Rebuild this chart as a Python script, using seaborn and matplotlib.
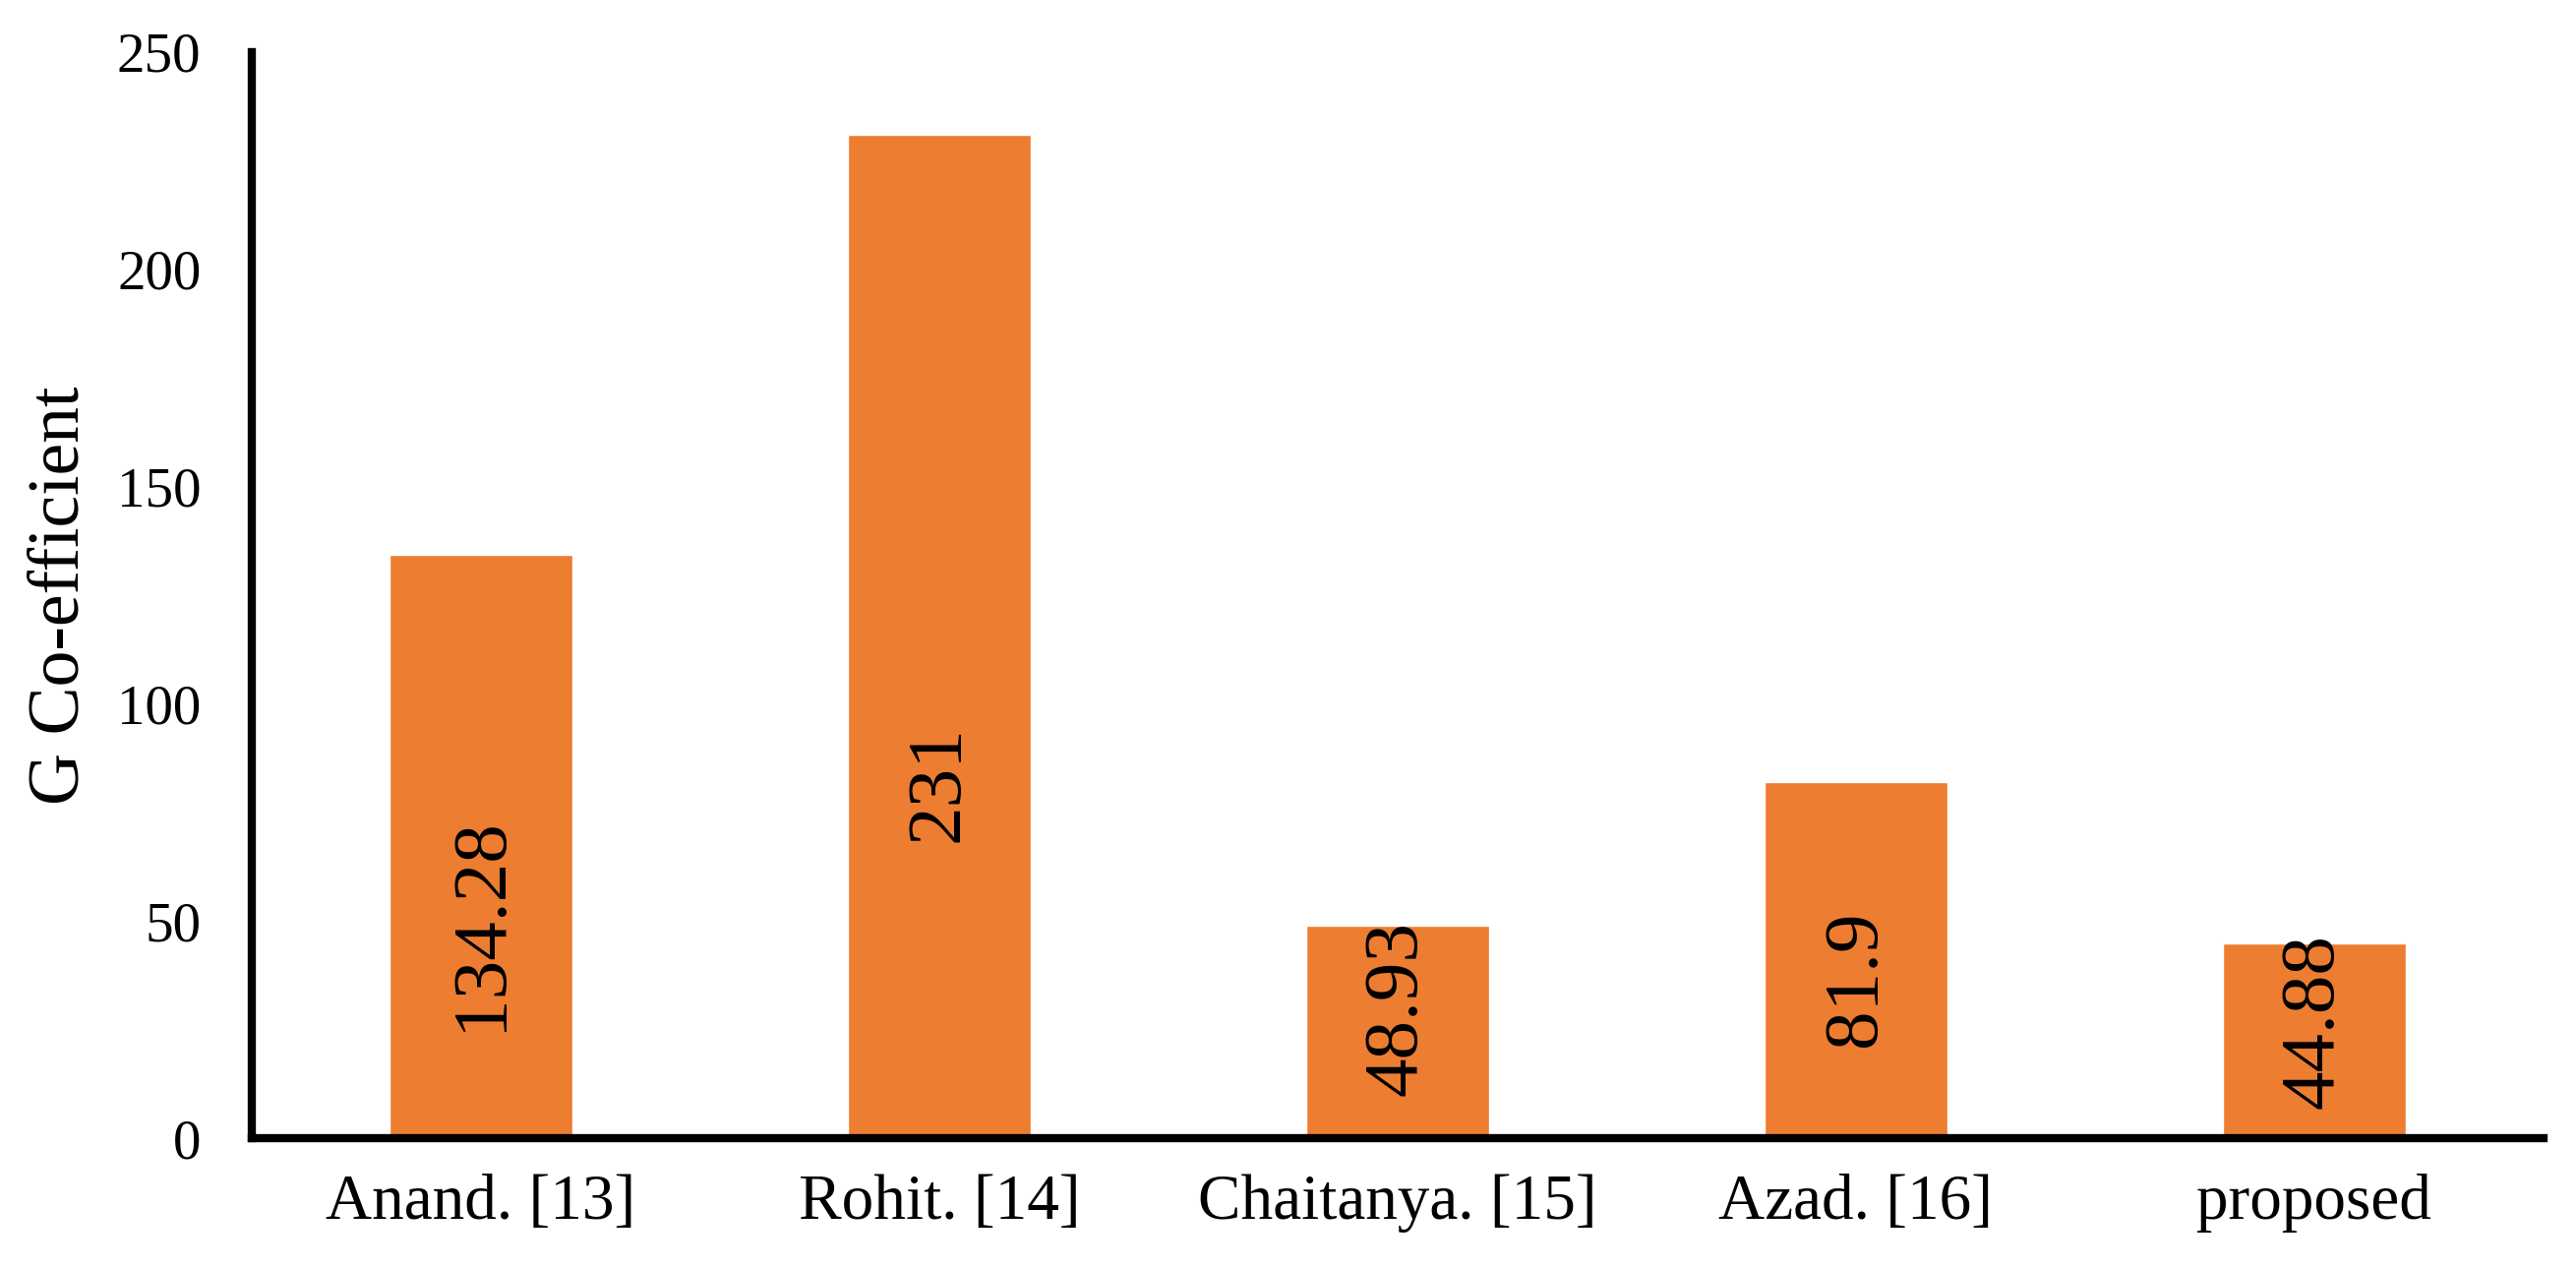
#%%
import numpy as np
import pandas as pd
import matplotlib
matplotlib.use("Agg")
import matplotlib.pyplot as plt
import seaborn as sns

# %%
methods = ["Anand. [13]", "Rohit. [14]", "Chaitanya. [15]", "Azad. [16]", "proposed"]
g_coeff = [134.28, 231, 48.93, 81.9, 44.88]
value_text = ["134.28", "231", "48.93", "81.9", "44.88"]
y_ticks = [0, 50, 100, 150, 200, 250]

# where the rotated value labels sit (centre, in data units)
label_pos = [49.4, 81.6, 29.9, 36.7, 27.0]

df = pd.DataFrame({"method": methods, "G Co-efficient": g_coeff})

# %%
sns.set_style("white")
plt.rcParams["font.family"] = ["Liberation Serif", "DejaVu Serif"]
plt.rcParams["text.color"] = "black"
plt.rcParams["axes.labelcolor"] = "black"
plt.rcParams["xtick.color"] = "black"
plt.rcParams["ytick.color"] = "black"

fig = plt.figure(figsize=(26.19, 12.89), dpi=100)
ax = fig.add_axes([0.0977, 0.1024, 0.8896, 0.8565])

sns.barplot(x="method", y="G Co-efficient", data=df, color="#ED7D31",
            saturation=1, width=0.4, ax=ax)

for i, txt in enumerate(value_text):
    ax.text(i, label_pos[i], txt, rotation=90, ha="center", va="center",
            fontsize=57, color="black")

ax.set_xlim(-0.5, 4.5)
ax.set_ylim(0, 250)
ax.set_yticks(y_ticks)
ax.set_xlabel("")
ax.set_ylabel("G Co-efficient", fontsize=53, color="black")
ax.yaxis.set_label_coords(-0.069, 0.5)

sns.despine(ax=ax)
for side in ["left", "bottom"]:
    ax.spines[side].set_linewidth(6)
    ax.spines[side].set_color("black")

ax.tick_params(axis="x", length=0, pad=26, labelsize=47, labelcolor="black")
ax.tick_params(axis="y", length=0, pad=37, labelsize=41, labelcolor="black")

fig.savefig("out.png", dpi=100)
